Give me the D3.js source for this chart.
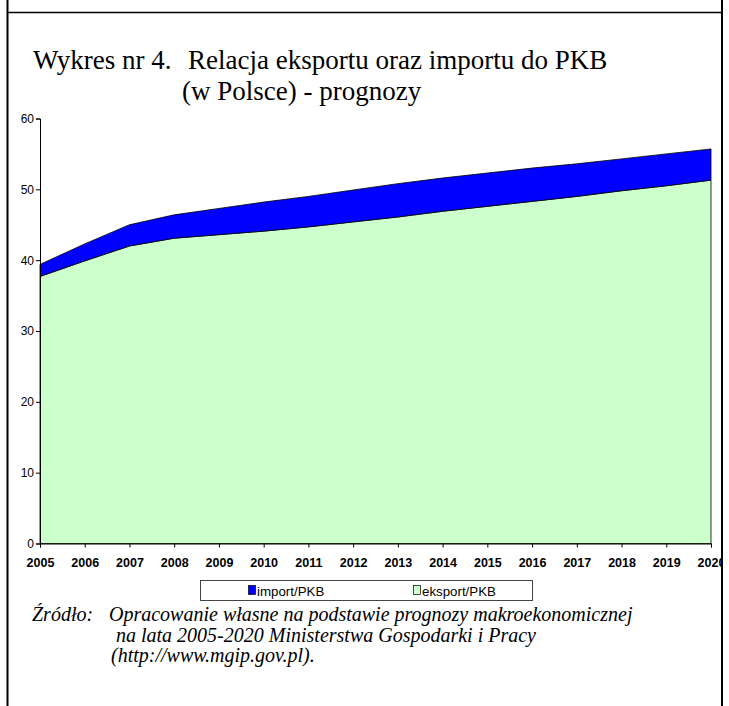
<!DOCTYPE html>
<html>
<head>
<meta charset="utf-8">
<script src="https://cdn.jsdelivr.net/npm/d3@7"></script>
<style>
  body { margin: 0; background: #fff; }
  svg { display: block; }
</style>
</head>
<body>
<div id="chart"></div>
<script>
// data
const years = [2005, 2006, 2007, 2008, 2009, 2010, 2011, 2012, 2013, 2014, 2015, 2016, 2017, 2018, 2019, 2020];
const eksport = [37.7, 39.9, 42.0, 43.1, 43.6, 44.1, 44.7, 45.4, 46.1, 46.9, 47.6, 48.3, 49.0, 49.8, 50.5, 51.3];
const importV = [1.7, 2.4, 3.0, 3.3, 3.7, 4.1, 4.3, 4.5, 4.7, 4.7, 4.7, 4.7, 4.6, 4.5, 4.5, 4.4];
const yTicks = [0, 10, 20, 30, 40, 50, 60];
const legendLabels = ["import/PKB", "eksport/PKB"];

const W = 729, H = 706;
const margin = { left: 40, right: 18, top: 118.5, bottom: 162.5 };
const gw = W - margin.left - margin.right;
const gh = H - margin.top - margin.bottom;

const svg = d3.select("#chart")
    .append("svg")
    .attr("width", W)
    .attr("height", H);

//title
const serif = "Liberation Serif, Times New Roman, serif";
svg.append("text")
    .text("Wykres nr 4.")
    .attr("x", 33).attr("y", 69)
    .attr("font-family", serif)
    .attr("font-size", 27);
svg.append("text")
    .text("Relacja eksportu oraz importu do PKB")
    .attr("x", 188).attr("y", 69)
    .attr("font-family", serif)
    .attr("font-size", 27);
svg.append("text")
    .text("(w Polsce) - prognozy")
    .attr("x", 182).attr("y", 100)
    .attr("font-family", serif)
    .attr("font-size", 27);

const graph = svg.append("g")
    .attr("transform", `translate(${margin.left},${margin.top})`);

//scales
const xScale = d3.scaleLinear().domain([2005, 2020]).range([0, gw]);
const yScale = d3.scaleLinear().domain([0, 60]).range([gh, 0]);

//stack export below import
const table = years.map((y, i) => ({ year: y, eksport: eksport[i], import: importV[i] }));
const stack = d3.stack().keys(["eksport", "import"]);
const series = stack(table);
const colors = { eksport: "#ccffcc", import: "#0000ff" };

const area = d3.area()
    .x(d => xScale(d.data.year))
    .y0(d => yScale(d[0]))
    .y1(d => yScale(d[1]));

graph.selectAll("path.area")
    .data(series)
    .enter()
    .append("path")
    .attr("class", "area")
    .attr("d", area)
    .attr("fill", d => colors[d.key])
    .attr("stroke", "#000")
    .attr("stroke-width", 0.8);

//axis
const yaxis = d3.axisLeft(yScale).tickValues(yTicks).tickSize(4).tickPadding(2);
const xaxis = d3.axisBottom(xScale).tickValues(years).tickFormat(d3.format("d")).tickSize(4).tickPadding(11);

const ygrp = graph.append("g").call(yaxis);
const xgrp = graph.append("g").attr("transform", `translate(0,${gh})`).call(xaxis);

[ygrp, xgrp].forEach(g => {
    g.select(".domain").attr("stroke", "#000").attr("stroke-width", 1);
    g.selectAll(".tick line").attr("stroke", "#000");
});
ygrp.selectAll("text")
    .attr("font-family", "Liberation Sans, Arial, sans-serif")
    .attr("font-size", 12)
    .attr("fill", "#000");
xgrp.selectAll("text")
    .attr("font-family", "Liberation Sans, Arial, sans-serif")
    .attr("font-size", 12.5)
    .attr("font-weight", "bold")
    .attr("fill", "#000");

//legend
const legend = svg.append("g");
legend.append("rect")
    .attr("x", 200.5).attr("y", 580.5)
    .attr("width", 332).attr("height", 20)
    .attr("fill", "#fff")
    .attr("stroke", "#444")
    .attr("stroke-width", 1);
const legendX = [248, 413];
const legendCol = [colors.import, colors.eksport];
legendLabels.forEach((lab, i) => {
    legend.append("rect")
        .attr("x", legendX[i] + 0.5).attr("y", 585.5)
        .attr("width", 7).attr("height", 9)
        .attr("fill", legendCol[i])
        .attr("stroke", "#000")
        .attr("stroke-width", 0.7);
    legend.append("text")
        .text(lab)
        .attr("x", legendX[i] + 9).attr("y", 596)
        .attr("font-family", "Liberation Sans, Arial, sans-serif")
        .attr("font-size", 13.3)
        .attr("fill", "#000");
});

//source note
const src = [
    { t: "Źródło:", x: 32, y: 621 },
    { t: "Opracowanie własne na podstawie prognozy makroekonomicznej", x: 109, y: 621 },
    { t: "na lata 2005-2020 Ministerstwa Gospodarki i Pracy", x: 116, y: 642 },
    { t: "(http://www.mgip.gov.pl).", x: 111, y: 662 }
];
src.forEach(s => {
    svg.append("text")
        .text(s.t)
        .attr("x", s.x).attr("y", s.y)
        .attr("font-family", serif)
        .attr("font-style", "italic")
        .attr("font-size", 20)
        .attr("fill", "#000");
});

// table-like frame, drawn last so it covers the clipped 2020 label
svg.append("rect").attr("x", 723).attr("y", 0).attr("width", W - 723).attr("height", H).attr("fill", "#fff");
svg.append("line").attr("x1", 7.5).attr("x2", 7.5).attr("y1", 0).attr("y2", H)
    .attr("stroke", "#000").attr("stroke-width", 2);
svg.append("line").attr("x1", 722).attr("x2", 722).attr("y1", 0).attr("y2", H)
    .attr("stroke", "#000").attr("stroke-width", 2);
svg.append("line").attr("x1", 7).attr("x2", 723).attr("y1", 12.5).attr("y2", 12.5)
    .attr("stroke", "#000").attr("stroke-width", 1.5);
</script>
</body>
</html>
